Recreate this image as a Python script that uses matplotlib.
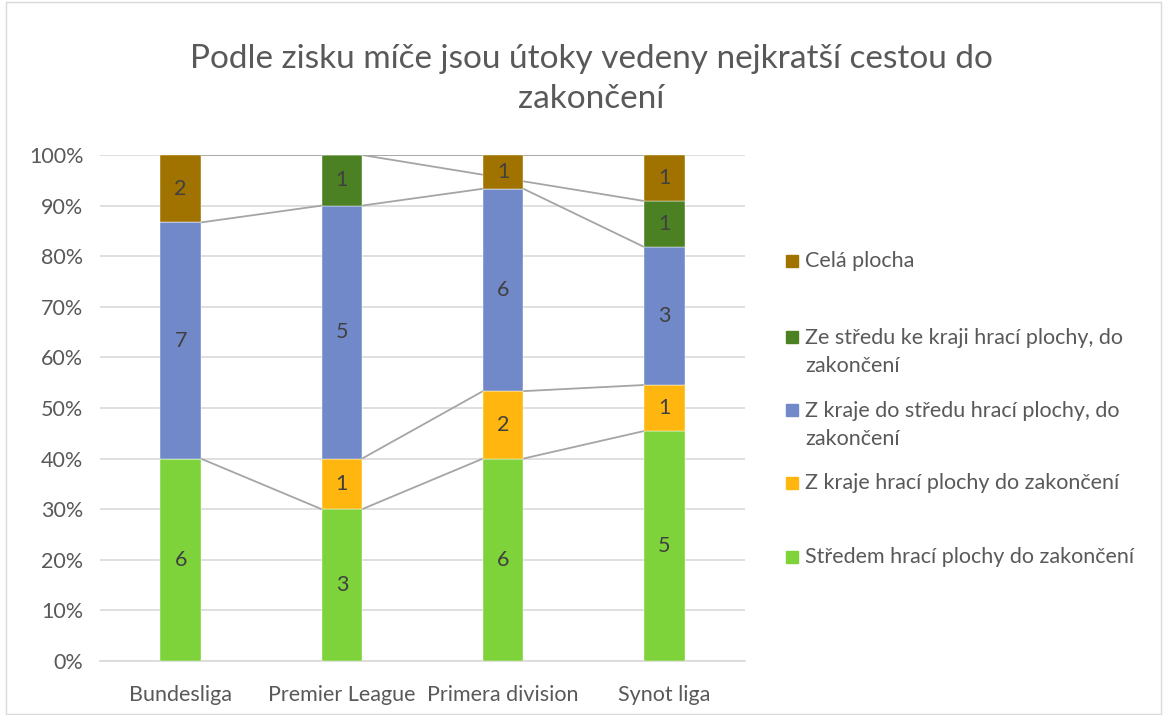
import numpy as np
import matplotlib
matplotlib.use("Agg")
from matplotlib import pyplot as plt
from matplotlib.patches import Rectangle

plt.rcParams['font.family'] = ['Lato', 'DejaVu Sans']

# data (0 = empty cell)
leagues = ['Bundesliga', 'Premier League', 'Primera division', 'Synot liga']
series = ['Středem hrací plochy do zakončení',
          'Z kraje hrací plochy do zakončení',
          'Z kraje do středu hrací plochy, do\nzakončení',
          'Ze středu ke kraji hrací plochy, do\nzakončení',
          'Celá plocha']
stredem = [6, 3, 6, 5]
z_kraje = [0, 1, 2, 1]
kraj_stred = [7, 5, 6, 3]
stred_kraj = [0, 1, 0, 1]
cela = [2, 0, 1, 1]
colors = ['#7ED23A', '#FFB70F', '#7189C8', '#4B8122', '#A07300']

counts = np.array([stredem, z_kraje, kraj_stred, stred_kraj, cela], dtype=float)
totals = counts.sum(axis=0)
shares = counts / totals * 100

fig = plt.figure(figsize=(11.67, 7.15), dpi=100)
ax = fig.add_axes([100/1167, 1-661/715, (745-100)/1167, (661-155)/715])

x = np.arange(len(leagues))
w = 0.25
bottom = np.zeros(len(leagues))
for i in range(len(series)):
    ax.bar(x, shares[i], w, bottom=bottom, color=colors[i], zorder=3,
           edgecolor='white', linewidth=0.3)
    top = bottom + shares[i]
    # series lines, empty cells are skipped like in excel
    pts = [j for j in range(len(leagues)) if counts[i, j] > 0]
    for a, b in zip(pts[:-1], pts[1:]):
        ax.plot([x[a] + w/2, x[b] - w/2], [top[a], top[b]],
                color='#A5A5A5', lw=1.3, zorder=2)
    for j in pts:
        ax.text(x[j], bottom[j] + shares[i, j]/2, '%d' % counts[i, j],
                ha='center', va='center', fontsize=15.5, color='#404040', zorder=4)
    bottom = top

ax.set_xlim(-0.5, 3.5)
ax.set_ylim(0, 100)
ax.set_yticks(np.arange(0, 101, 10))
ax.set_yticklabels(['%d%%' % v for v in range(0, 101, 10)])
ax.set_xticks(x)
ax.set_xticklabels(leagues)
ax.tick_params(length=0, labelsize=15.5, labelcolor='#595959')
ax.tick_params(axis='x', pad=17)
ax.tick_params(axis='y', pad=12)
ax.grid(axis='y', color='#D9D9D9', lw=1.2, zorder=0)
for s in ['top', 'right', 'left']:
    ax.spines[s].set_visible(False)
ax.spines['bottom'].set_color('#D9D9D9')
ax.spines['bottom'].set_linewidth(1.2)

fig.text(591/1167, 1-79/715, 'Podle zisku míče jsou útoky vedeny nejkratší cestou do\nzakončení',
         ha='center', va='center', fontsize=24, color='#595959', linespacing=1.45)

# legend drawn by hand to match the uneven spacing
leg_rows = [(4, 261, 261), (3, 337, 352), (2, 410, 425), (1, 483, 483), (0, 557, 557)]
for i, ysq, ytxt in leg_rows:
    fig.patches.append(Rectangle((786/1167, 1-(ysq+6)/715), 12/1167, 12/715,
                                 transform=fig.transFigure, color=colors[i]))
    fig.text(805/1167, 1-ytxt/715, series[i], ha='left', va='center',
             fontsize=15.5, color='#595959', linespacing=1.45)

fig.patches.append(Rectangle((6/1167, 0.002), 1155/1167, 0.995, transform=fig.transFigure,
                             fill=False, edgecolor='#D9D9D9', lw=1))

fig.savefig('out.png', dpi=100)
